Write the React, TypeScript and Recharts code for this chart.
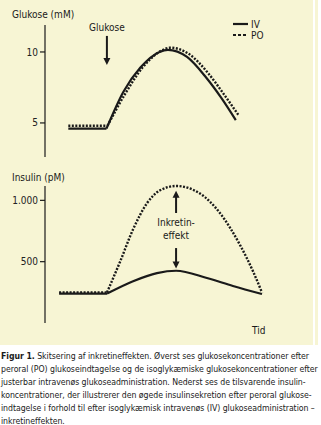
import { LineChart, Line, XAxis, YAxis, ReferenceLine } from "recharts";

// glucose panel (time in arbitrary units 0-100)
const glucoseTimeIV = [11, 29, 37, 45, 54, 58, 67, 76, 83, 90];
const glucoseIV = [4.6, 4.6, 7.2, 8.9, 10.0, 10.15, 9.65, 8.2, 6.8, 5.2];
const glucoseTimePO = [11, 29.5, 38, 46, 55, 59, 68, 77, 84, 91.5];
const glucosePO = [4.8, 4.8, 7.1, 8.9, 10.1, 10.3, 9.85, 8.5, 7.1, 5.5];
const glucoseTicks = [5, 10];

// insulin panel
const insulinTimeIV = [6.5, 28.6, 40.6, 51.6, 60.4, 74.6, 86.6, 100];
const insulinIV = [240, 240, 341, 407, 426, 367, 302, 236];
const insulinTimePO = [6.5, 28.6, 34.6, 40.6, 47, 53, 60.4, 71.4, 80.6, 89.9, 95.9, 100];
const insulinPO = [250, 250, 500, 764, 976, 1082, 1117, 1056, 897, 635, 420, 248];
const insulinTicks = [500, 1000];

const captionLines = [
  "Skitsering af inkretineffekten. Øverst ses glukosekoncentrationer efter",
  "peroral (PO) glukoseindtagelse og de isoglykæmiske glukosekoncentrationer efter",
  "justerbar intravenøs glukoseadministration. Nederst ses de tilsvarende insulin-",
  "koncentrationer, der illustrerer den øgede insulinsekretion efter peroral glukose-",
  "indtagelse i forhold til efter isoglykæmisk intravenøs (IV) glukoseadministration –",
  "inkretineffekten.",
];

const zip = (t: number[], v: number[]) => t.map((x, i) => ({ t: x, v: v[i] }));

const font = "'Liberation Sans Narrow', 'DejaVu Sans Condensed', 'Liberation Sans', sans-serif";
const ink = "#1a1a1a";

const Arrow = (props: any) => {
  const { x1, y1, x2, y2, label, label2, labelDy } = props;
  const dir = y2 > y1 ? 1 : -1;
  return (
    <g>
      <line x1={x1} y1={y1} x2={x2} y2={y2 - dir * 5} stroke={ink} strokeWidth={2} />
      <polygon points={`${x2 - 3.5},${y2 - dir * 7} ${x2 + 3.5},${y2 - dir * 7} ${x2},${y2}`} fill={ink} />
      {label && (
        <text x={x1} y={y1 + labelDy} textAnchor="middle" fontSize={10} fontFamily={font} fill={ink}>
          {label}
        </text>
      )}
      {label2 && (
        <text x={x1} y={y1 + labelDy + 13} textAnchor="middle" fontSize={10} fontFamily={font} fill={ink}>
          {label2}
        </text>
      )}
    </g>
  );
};

const tickStyle = { fontSize: 10, fill: "#222", fontFamily: font };

// one series = flat baseline (straight) + smooth response curve from the corner on
const series = (t: number[], v: number[], dashed: boolean) => {
  const pts = zip(t, v);
  const style = dashed
    ? { stroke: ink, strokeWidth: 2.4, strokeDasharray: "2 1.5" }
    : { stroke: ink, strokeWidth: 2.2 };
  return [
    <Line key="b" data={pts.slice(0, 2)} dataKey="v" type="linear" {...style} dot={false} isAnimationActive={false} />,
    <Line key="c" data={pts.slice(1)} dataKey="v" type="monotone" {...style} dot={false} isAnimationActive={false} />,
  ];
};

export default function App() {
  return (
    <div style={{ position: "absolute", left: 0, top: 0, width: 321, height: 425, background: "#fff" }}>
      <div style={{ position: "absolute", left: 0, top: 0, width: 313, height: 345, background: "#f7f5d4" }} />
      <div style={{ position: "absolute", left: 315, top: 0, width: 3, height: 345, background: "#f7f5d4" }} />

      <div style={{ position: "absolute", left: 12, top: 9, fontSize: 10, fontFamily: font, color: ink }}>Glukose (mM)</div>
      <div style={{ position: "absolute", left: 12, top: 172, fontSize: 10, fontFamily: font, color: ink }}>Insulin (pM)</div>

      {/* legend */}
      <svg style={{ position: "absolute", left: 230, top: 17 }} width={50} height={26}>
        <line x1={3} y1={7} x2={18} y2={7} stroke={ink} strokeWidth={2.2} />
        <text x={21} y={11} fontSize={10} fontFamily={font} fill={ink}>IV</text>
        <line x1={3} y1={18} x2={18} y2={18} stroke={ink} strokeWidth={2.2} strokeDasharray="3 2" />
        <text x={21} y={22} fontSize={10} fontFamily={font} fill={ink}>PO</text>
      </svg>

      <div style={{ position: "absolute", left: 0, top: 0 }}>
        <LineChart width={321} height={170} margin={{ top: 25, right: 64, left: 0, bottom: 13 }}>
          <XAxis type="number" dataKey="t" domain={[0, 100]} tick={false} tickLine={false} height={0} stroke={ink} strokeWidth={1.2} allowDuplicatedCategory={false} />
          <YAxis type="number" domain={[2.6, 11.9]} ticks={glucoseTicks} width={45} tick={tickStyle} stroke={ink} strokeWidth={1.2} tickSize={5} />
          <ReferenceLine
            segment={[{ x: 29.2, y: 11.13 }, { x: 29.2, y: 9.08 }]}
            shape={(p: any) => <Arrow {...p} label="Glukose" labelDy={-5} />}
          />
          {series(glucoseTimePO, glucosePO, true)}
          {series(glucoseTimeIV, glucoseIV, false)}
        </LineChart>
      </div>

      <div style={{ position: "absolute", left: 0, top: 170 }}>
        <LineChart width={321} height={175} margin={{ top: 16, right: 59, left: 0, bottom: 22 }}>
          <XAxis type="number" dataKey="t" domain={[0, 100]} tick={false} tickLine={false} height={0} stroke={ink} strokeWidth={1.2} allowDuplicatedCategory={false} />
          <YAxis
            type="number"
            domain={[0, 1085]}
            ticks={insulinTicks}
            width={45}
            tick={tickStyle}
            stroke={ink}
            strokeWidth={1.2}
            tickSize={5}
            tickFormatter={(v: number) => v.toLocaleString("da-DK")}
          />
          <ReferenceLine
            segment={[{ x: 60.4, y: 897 }, { x: 60.4, y: 1079 }]}
            shape={(p: any) => <Arrow {...p} label="Inkretin-" label2="effekt" labelDy={13} />}
          />
          <ReferenceLine
            segment={[{ x: 60.4, y: 611 }, { x: 60.4, y: 444 }]}
            shape={(p: any) => <Arrow {...p} />}
          />
          {series(insulinTimePO, insulinPO, true)}
          {series(insulinTimeIV, insulinIV, false)}
        </LineChart>
      </div>
      <div style={{ position: "absolute", left: 252, top: 325, fontSize: 10, fontFamily: font, color: ink }}>Tid</div>

      <div
        style={{
          position: "absolute",
          left: 1,
          top: 350,
          width: 318,
          fontSize: 8.7,
          letterSpacing: "-0.05px",
          lineHeight: "13px",
          fontFamily: font,
          color: ink,
          whiteSpace: "nowrap",
        }}
      >
        {captionLines.map((line, i) => (
          <div key={i}>
            {i === 0 && <b>Figur 1.</b>} {line}
          </div>
        ))}
      </div>
    </div>
  );
}
